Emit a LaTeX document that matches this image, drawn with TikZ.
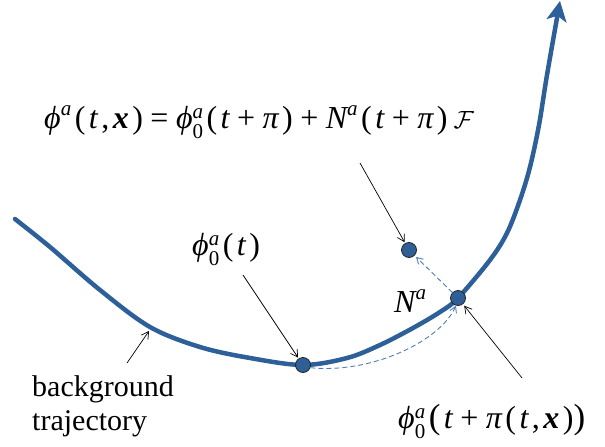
\documentclass[tikz,border=0pt]{standalone}
\usepackage{fontspec}
\setmainfont{Liberation Serif}
\usetikzlibrary{arrows.meta}
\definecolor{trajblue}{HTML}{2D5F98}
\definecolor{dotblue}{HTML}{2E5F96}
\definecolor{dashblue}{HTML}{4F7FB8}
\newcommand{\iv}[1]{{\itshape #1}}
\newcommand{\bxv}{{\bfseries\itshape x}}
\newcommand{\smallfs}{\fontsize{21}{21}\selectfont}
\newcommand{\supa}[1]{\raisebox{0.38em}{\smallfs\itshape #1}}
\newcommand{\supsub}[2]{\rlap{\raisebox{0.3em}{\smallfs\itshape #1}}\raisebox{-0.32em}{\smallfs #2}}
\newcommand{\gp}{\hspace{3.5pt}}
\newcommand{\op}[1]{\hspace{7.5pt}#1\hspace{7.5pt}}
\newcommand{\bigpar}[1]{{\fontsize{35}{35}\selectfont #1}}
\begin{document}
\begin{tikzpicture}[x=1pt,y=-1pt,
  dot/.style={circle, fill=dotblue, draw=black!85, line width=0.8pt, minimum size=15pt, inner sep=0pt},
  pointer/.style={line width=0.7pt, -{Straight Barb[length=7pt,width=8pt]}},
  dashlink/.style={draw=dashblue, line width=0.9pt, dash pattern=on 5pt off 3pt, -{Straight Barb[length=6pt,width=7pt]}},
  mathlbl/.style={inner sep=0pt, font=\fontsize{32}{36}\selectfont},
  txtlbl/.style={inner sep=0pt, align=left, font=\fontsize{30}{34}\selectfont}]
\useasboundingbox (0,0) rectangle (605,447);
% trajectory
\draw[trajblue, line width=4.5pt, line cap=round, -{Stealth[length=20pt,width=20pt,inset=5pt]}]
  plot[smooth, tension=0.55] coordinates {(15,219) (50,247) (100,290) (150,327) (200,347) (250,358) (303,365) (347,358) (380,345) (413,328) (440,312) (458,298) (490,260) (507,233) (520,200) (530,167) (539,125) (547,75) (560,1)};
% points
\node[dot] (p1) at (303,365) {};
\node[dot] (p2) at (458,298) {};
\node[dot] (p3) at (409,250) {};
% labels
\node[mathlbl, anchor=base west] (eq) at (44,128) {\iv{ϕ}\supa{a}\gp(\gp\iv{t}\gp,\gp\bxv\gp)\op{=}\iv{ϕ}\supsub{a}{0}\gp(\gp\iv{t}\op{+}\iv{π}\gp)\op{+}\iv{N}\supa{a}\gp(\gp\iv{t}\op{+}\iv{π}\gp)\hspace{6pt}$\mathcal{F}$};
\node[mathlbl, anchor=base west] (l1) at (192,255) {\iv{ϕ}\supsub{a}{0}\gp(\gp\iv{t}\gp)};
\node[mathlbl, anchor=base west] (l2) at (394,312) {\iv{N}\supa{a}};
\node[mathlbl, anchor=base west] (l3) at (398,428) {\iv{ϕ}\supsub{a}{0}\gp\bigpar{(}\gp\iv{t}\op{+}\iv{π}\gp(\gp\iv{t}\gp,\gp\bxv\gp)\bigpar{)}};
\node[txtlbl, anchor=north west] (bg) at (32,375) {background\\trajectory};
% pointer starts
\coordinate (a1) at (360,163);
\coordinate (a2) at (243,275);
\coordinate (a3) at (522,378);
\coordinate (a4) at (127,363);
\coordinate (a4e) at (149,331);
% pointers
\draw[pointer, shorten >=1pt] (a1) -- (p3);
\draw[pointer, shorten >=1pt] (a2) -- (p1);
\draw[pointer, shorten >=2pt] (a3) -- (p2);
\draw[pointer] (a4) -- (a4e);
% dashed links
\draw[dashlink, shorten >=2pt] (p2) -- (p3);
\draw[dashlink] (p1.-20) .. controls (370,374) and (440,342) .. (p2.-105);
\end{tikzpicture}
\end{document}
